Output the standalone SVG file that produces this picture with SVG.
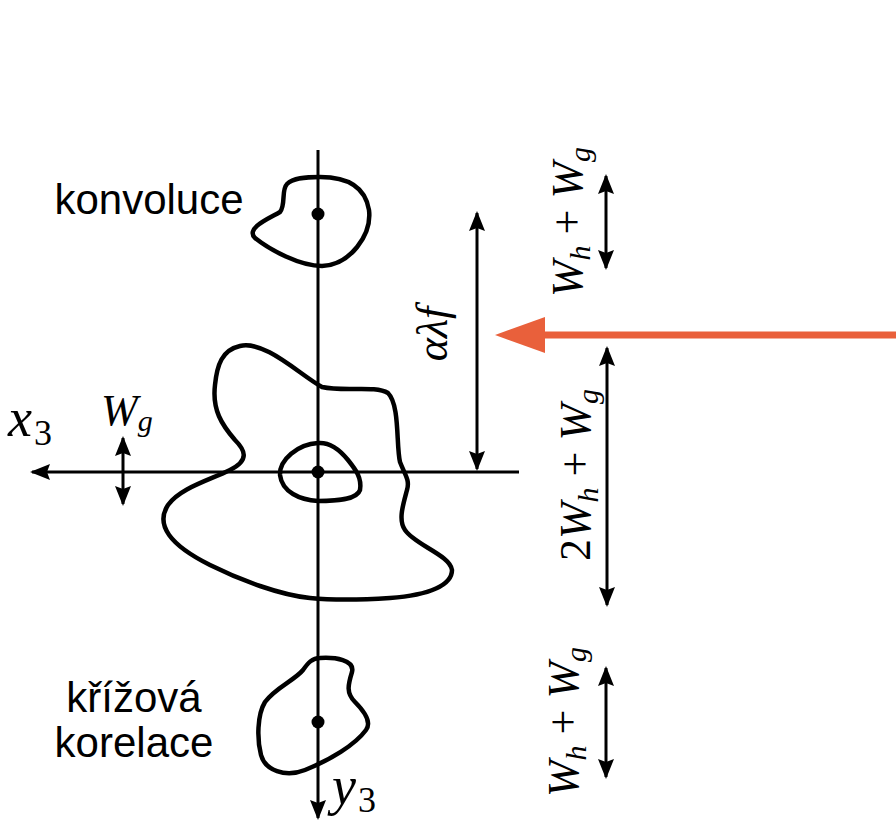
<svg xmlns="http://www.w3.org/2000/svg" width="896" height="823" viewBox="0 0 896 823">
<style>
.ln{stroke:#000;stroke-width:3;fill:none}
.blob{stroke:#000;stroke-width:4.5;fill:none;stroke-linejoin:round}
.lbl{font-family:"Liberation Sans",Arial,sans-serif;font-size:42px;fill:#000}
.m{font-family:"Liberation Serif","Times New Roman",serif;font-style:italic;font-size:44px;fill:#000}
.ax{font-size:54px}
.up{font-style:normal}
.sub{font-size:30px}
.sub3{font-size:36px}
</style>
<defs>
<marker id="ah" viewBox="0 0 20 16" refX="18" refY="8" markerWidth="20" markerHeight="16" markerUnits="userSpaceOnUse" orient="auto-start-reverse">
<path d="M0,0 L20,8 L0,16 L3,8 Z" fill="#000"/>
</marker>
</defs>
<g id="connectors">
<line class="ln" x1="318" y1="150" x2="318" y2="818" marker-end="url(#ah)"/>
<line class="ln" x1="519" y1="472" x2="32" y2="472" marker-end="url(#ah)"/>
<line class="ln" x1="123" y1="438" x2="123" y2="504" marker-start="url(#ah)" marker-end="url(#ah)"/>
<line class="ln" x1="477" y1="213" x2="477" y2="469" marker-start="url(#ah)" marker-end="url(#ah)"/>
<line class="ln" x1="606" y1="176" x2="606" y2="268" marker-start="url(#ah)" marker-end="url(#ah)"/>
<line class="ln" x1="607" y1="348" x2="607" y2="605" marker-start="url(#ah)" marker-end="url(#ah)"/>
<line class="ln" x1="606" y1="668" x2="606" y2="777" marker-start="url(#ah)" marker-end="url(#ah)"/>
<line x1="896" y1="335" x2="545" y2="335" stroke="#E9603B" stroke-width="7"/>
<path d="M545,317 L495,335 L545,353 Z" fill="#E9603B"/>
</g>
<g id="konvoluce">
<path class="blob" d="M320,177 C345,177 365,185 369,210 C372,235 350,265 322,266 C300,266 270,250 255,238 C245,228 270,218 280,212 C286,205 281,190 287,184 C293,178 305,177 320,177 Z"/>
<circle cx="318" cy="214" r="6.5" fill="#000"/>
<text class="lbl" x="149" y="214" text-anchor="middle">konvoluce</text>
</g>
<g id="center">
<path class="blob" d="M240,346 C265,340 300,375 322,387 C345,392 375,385 388,393 C400,405 396,445 400,462 C405,475 410,480 407,490 C403,505 398,520 405,530 C415,545 450,555 452,570 C452,585 430,595 390,598 C360,600 330,600 310,598 C280,595 240,580 210,565 C170,545 155,525 168,505 C180,488 210,480 230,470 C250,460 245,450 235,440 C222,425 212,410 215,385 C217,365 222,350 240,346 Z"/>
<path class="blob" d="M318,443 C330,442 340,450 348,460 C356,470 362,478 360,490 C357,500 335,501 318,501 C300,500 282,492 280,475 C279,460 298,444 318,443 Z"/>
<circle cx="318" cy="472" r="6.5" fill="#000"/>
</g>
<g id="korelace">
<path class="blob" d="M320,658 C335,657 355,660 352,672 C348,685 346,693 355,702 C365,712 372,722 366,730 C355,745 330,760 305,770 C285,778 265,770 261,755 C257,740 257,715 265,702 C275,688 295,680 303,670 C308,663 312,658 320,658 Z"/>
<circle cx="318" cy="722" r="6.5" fill="#000"/>
<text class="lbl" x="134" y="712" text-anchor="middle">křížová</text>
<text class="lbl" x="134" y="757" text-anchor="middle">korelace</text>
</g>
<g id="labels">
<text class="m ax" x="8" y="436">x<tspan class="up sub3" dx="2" dy="9">3</tspan></text>
<text class="m ax" x="332" y="804">y<tspan class="up sub3" dx="2" dy="8">3</tspan></text>
<text class="m" x="101" y="425">W<tspan class="sub" dy="6">g</tspan></text>
<text class="m" transform="translate(447,334) rotate(-90)" text-anchor="middle">αλf</text>
<text class="m" transform="translate(582,222) rotate(-90)" text-anchor="middle">W<tspan class="sub" dy="8">h</tspan><tspan class="up" dy="-8"> + </tspan>W<tspan class="sub" dy="8">g</tspan></text>
<text class="m" transform="translate(590,475) rotate(-90)" text-anchor="middle"><tspan class="up">2</tspan>W<tspan class="sub" dy="8">h</tspan><tspan class="up" dy="-8"> + </tspan>W<tspan class="sub" dy="8">g</tspan></text>
<text class="m" transform="translate(578,722) rotate(-90)" text-anchor="middle">W<tspan class="sub" dy="8">h</tspan><tspan class="up" dy="-8"> + </tspan>W<tspan class="sub" dy="8">g</tspan></text>
</g>
</svg>
